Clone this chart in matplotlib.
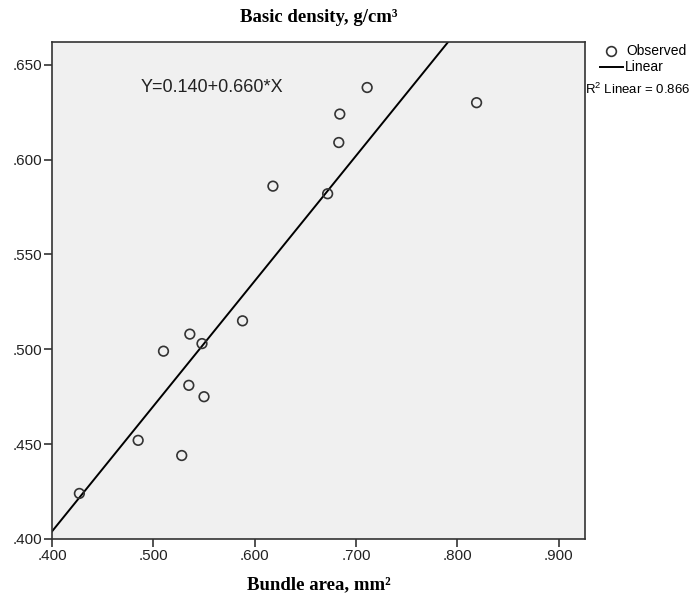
import matplotlib
matplotlib.use("Agg")
import matplotlib.pyplot as plt
from matplotlib.lines import Line2D
import numpy as np

plt.rcParams["mathtext.fontset"] = "custom"
plt.rcParams["mathtext.rm"] = "Liberation Sans"
plt.rcParams["mathtext.default"] = "regular"

bundle_area = [0.427, 0.485, 0.510, 0.528, 0.535, 0.536, 0.548, 0.550,
               0.588, 0.618, 0.672, 0.683, 0.684, 0.711, 0.819]
basic_density = [0.424, 0.452, 0.499, 0.444, 0.481, 0.508, 0.503, 0.475,
                 0.515, 0.586, 0.582, 0.609, 0.624, 0.638, 0.630]
intercept = 0.140
slope = 0.660
r2 = 0.866
xticks = [0.4, 0.5, 0.6, 0.7, 0.8, 0.9]
yticks = [0.40, 0.45, 0.50, 0.55, 0.60, 0.65]

fig = plt.figure(figsize=(6.91, 5.98), dpi=100)
ax = fig.add_axes([0.0753, 0.0987, 0.7713, 0.8311])
ax.set_facecolor("#F0F0F0")

ax.scatter(bundle_area, basic_density, s=48, facecolors="none",
           edgecolors="#333333", linewidths=1.2, zorder=3)

xlim = (0.4, 0.926)
ylim = (0.4, 0.662)
xs = np.array(xlim)
ax.plot(xs, intercept + slope * xs, color="black", lw=1.4, zorder=2)
ax.set_xlim(*xlim)
ax.set_ylim(*ylim)

ax.set_xticks(xticks)
ax.set_yticks(yticks)
ax.set_xticklabels([f"{v:.3f}"[1:] for v in xticks], fontfamily="Liberation Sans", fontsize=11)
ax.set_yticklabels([f"{v:.3f}"[1:] for v in yticks], fontfamily="Liberation Sans", fontsize=11)
ax.tick_params(direction="out", length=6, width=1.2, color="#333333", labelcolor="#222222", pad=1)
for s in ax.spines.values():
    s.set_color("#333333")
    s.set_linewidth(1.2)

ax.text(0.487, 0.638, f"Y={intercept:.3f}+{slope:.3f}*X", fontfamily="Liberation Sans",
        fontsize=13, va="center", ha="left", color="#222222")

fig.text(0.5 * (52 + 585) / 691, 1 - 18 / 598, "Basic density, g/cm³", ha="center", va="center",
         fontfamily="Liberation Serif", fontweight="bold", fontsize=13.5)
fig.text(0.5 * (52 + 585) / 691, 1 - 585 / 598, "Bundle area, mm²", ha="center", va="center",
         fontfamily="Liberation Serif", fontweight="bold", fontsize=13.5)

# legend
W, H = 691, 598
fig.add_artist(Line2D([611 / W], [1 - 51 / H], marker="o", markersize=7, markerfacecolor="none",
                      markeredgecolor="#333333", markeredgewidth=1.2, linestyle="none",
                      transform=fig.transFigure))
fig.text(626 / W, 1 - 51 / H, "Observed", fontfamily="Liberation Sans", fontsize=10, va="center")
fig.add_artist(Line2D([600 / W, 623 / W], [1 - 67 / H, 1 - 67 / H], color="black", lw=1.4,
                      transform=fig.transFigure))
fig.text(625 / W, 1 - 67 / H, "Linear", fontfamily="Liberation Sans", fontsize=10, va="center")
fig.text(585 / W, 1 - 89 / H, "R$^{2}$ Linear = " + f"{r2:.3f}", fontfamily="Liberation Sans",
         fontsize=9.5, va="center")

fig.savefig("out.png", dpi=100)
